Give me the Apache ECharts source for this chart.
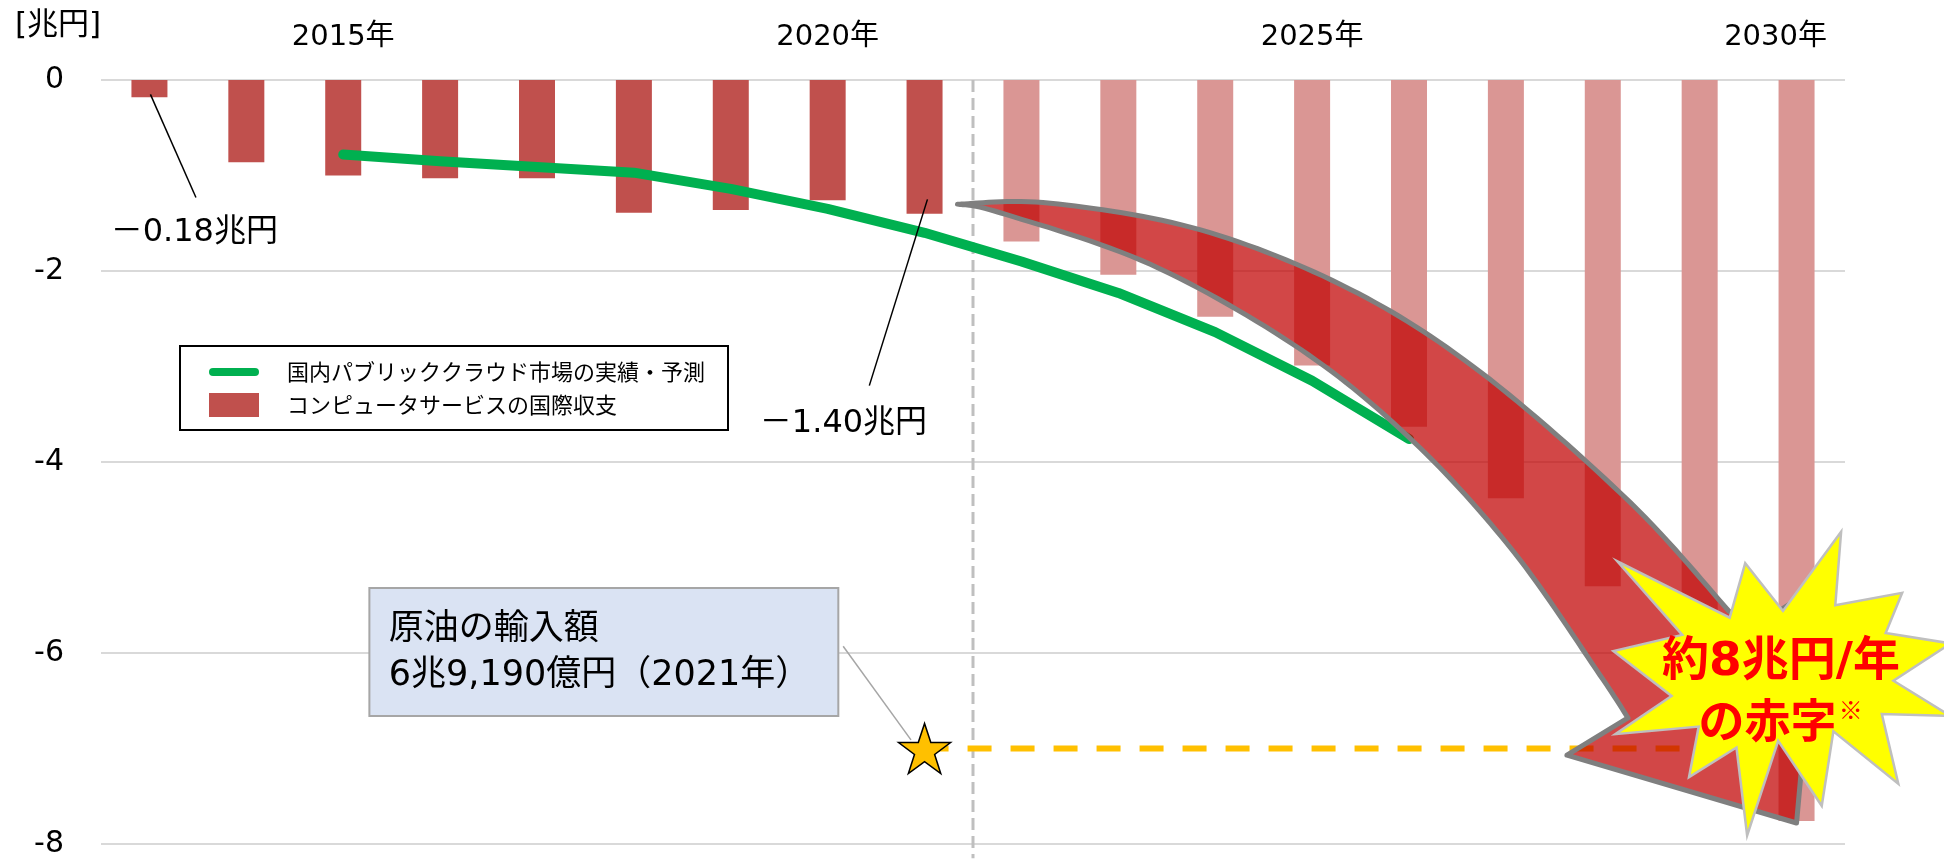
<!DOCTYPE html>
<html>
<head>
<meta charset="utf-8">
<script src="https://cdn.jsdelivr.net/npm/echarts@6/dist/echarts.min.js"></script>
<style>
  html, body { margin: 0; padding: 0; background: #fff; }
  #main { width: 1944px; height: 859px; }
</style>
</head>
<body>
<div id="main"></div>
<script>
// categories
const years = ['2013', '2014', '2015', '2016', '2017', '2018', '2019', '2020', '2021',
               '2022', '2023', '2024', '2025', '2026', '2027', '2028', '2029', '2030'];

// コンピュータサービスの国際収支 [兆円]
const actualBalance = [-0.18, -0.86, -1.00, -1.03, -1.03, -1.39, -1.36, -1.26, -1.40];   // 2013-2021
const forecastBalance = [-1.69, -2.04, -2.48, -2.99, -3.63, -4.38, -5.30, -6.50, -7.76]; // 2022-2030

// 国内パブリッククラウド市場の実績・予測 (2015-2026)
const cloudMarket = [null, null, -0.78, -0.85, -0.91, -0.97, -1.14, -1.35, -1.60,
                     -1.90, -2.23, -2.64, -3.15, -3.76, null, null, null, null];

// 原油の輸入額 (2021年)
const oilImport = -7.0;
const oilFrom = '2021';
const oilTo = '2030';

const yMin = -8, yMax = 0, yStep = 2;

const FONT = '"DejaVu Sans", "Noto Sans CJK JP", sans-serif';
const CJK = '"Noto Sans CJK JP", sans-serif';
const barColor = '#c0504d';
const barColorForecast = '#da9694';
const cloudName = '国内パブリッククラウド市場の実績・予測';
const balanceName = 'コンピュータサービスの国際収支';

// decorations, in [category index, value] units
const dividerX = 8.5;
const arrowUpper = [
  [8.34, -1.30], [9.30, -1.29], [10.85, -1.57], [12.39, -2.19], [13.74, -3.06],
  [15.28, -4.42], [16.30, -5.56], [16.57, -5.72]
];
const arrowHead = [[17.22, -5.30], [17.00, -7.78], [14.63, -7.07]];
const arrowLower = [
  [15.26, -6.68], [14.97, -6.23], [14.08, -4.94], [13.05, -3.79], [11.88, -2.82],
  [10.33, -1.93], [8.78, -1.39], [8.34, -1.30]
];
const burstOutline = [
  [17.46, -4.73], [16.86, -5.56], [16.47, -5.06], [16.31, -5.63], [15.15, -5.04], [15.82, -5.81],
  [15.11, -5.98], [15.71, -6.45], [15.13, -6.85], [15.99, -6.77], [15.89, -7.30], [16.38, -6.99],
  [16.49, -7.91], [16.81, -6.92], [17.26, -7.60], [17.38, -6.82], [18.05, -7.37], [17.88, -6.64],
  [18.59, -6.66], [18.00, -6.29], [18.59, -5.90], [17.92, -5.79], [18.09, -5.37], [17.40, -5.50]
];

var chartDom = document.getElementById('main');
var myChart = echarts.init(chartDom);

const barData = actualBalance.concat(forecastBalance).map(function (v, i) {
  return i < actualBalance.length ? v : { value: v, itemStyle: { color: barColorForecast } };
});

// catmull-rom through pixel points
function spline(pts, steps) {
  const out = [];
  for (let i = 0; i < pts.length - 1; i++) {
    const p0 = pts[Math.max(i - 1, 0)], p1 = pts[i], p2 = pts[i + 1], p3 = pts[Math.min(i + 2, pts.length - 1)];
    for (let s = 0; s < steps; s++) {
      const t = s / steps, t2 = t * t, t3 = t2 * t;
      out.push([0, 1].map(function (k) {
        return 0.5 * ((2 * p1[k]) + (-p0[k] + p2[k]) * t +
          (2 * p0[k] - 5 * p1[k] + 4 * p2[k] - p3[k]) * t2 +
          (-p0[k] + 3 * p1[k] - 3 * p2[k] + p3[k]) * t3);
      }));
    }
  }
  out.push(pts[pts.length - 1]);
  return out;
}

function single(z, build) {
  return {
    type: 'custom',
    xAxisIndex: 1,
    yAxisIndex: 0,
    z: z,
    silent: true,
    clip: false,
    data: [[0, 0]],
    renderItem: function (params, api) {
      return { type: 'group', children: build(api) };
    }
  };
}

function textEl(api, pos, text, size, opts) {
  const p = api.coord(pos);
  return {
    type: 'text',
    x: p[0], y: p[1],
    style: Object.assign({
      text: text, fill: '#000', fontSize: size, fontFamily: FONT,
      align: 'left', verticalAlign: 'middle'
    }, opts || {})
  };
}

function lineEl(api, a, b, style) {
  const p = api.coord(a), q = api.coord(b);
  return { type: 'line', shape: { x1: p[0], y1: p[1], x2: q[0], y2: q[1] }, style: style };
}

var option = {
  animation: false,
  title: {
    text: '[兆円]',
    left: 10,
    top: 5,
    textStyle: { fontSize: 31, fontWeight: 'normal', color: '#000', fontFamily: FONT }
  },
  grid: { left: 101, right: 99, top: 80, bottom: 12 },
  legend: {
    left: 180,
    top: 346,
    orient: 'vertical',
    padding: [14, 23, 13, 29],
    borderColor: '#000',
    borderWidth: 2,
    itemGap: 9,
    itemWidth: 50,
    itemHeight: 24,
    textStyle: { fontSize: 22, color: '#000', fontFamily: CJK, padding: [0, 0, 0, 23] },
    data: [
      { name: cloudName, icon: 'path://M0,0M0,24M4,8h42a4,4 0 0 1 0,8h-42a4,4 0 0 1 0,-8z', itemStyle: { color: '#00b050' } },
      { name: balanceName, icon: 'rect', itemStyle: { color: barColor } }
    ]
  },
  xAxis: [
    {
      type: 'category',
      data: years,
      position: 'top',
      axisLine: { show: false },
      axisTick: { show: false },
      axisLabel: {
        interval: 0,
        margin: 28,
        fontSize: 29,
        color: '#000',
        fontFamily: FONT,
        formatter: function (v) {
          if (v === years[years.length - 1]) return '{e|' + v + '年}';
          return Number(v) % 5 === 0 ? v + '年' : '';
        },
        rich: { e: { fontSize: 29, color: '#000', fontFamily: FONT, padding: [0, 42, 0, 0] } }
      }
    },
    { type: 'value', min: -0.5, max: years.length - 0.5, show: false }
  ],
  yAxis: {
    type: 'value',
    min: yMin,
    max: yMax,
    interval: yStep,
    axisLine: { show: false },
    axisTick: { show: false },
    axisLabel: { fontSize: 30, color: '#000', fontFamily: FONT, margin: 37, padding: [0, 0, 10, 0] },
    splitLine: { lineStyle: { color: '#d9d9d9', width: 2 } }
  },
  series: [
    {
      name: balanceName,
      type: 'bar',
      z: 2,
      barWidth: 36,
      itemStyle: { color: barColor },
      data: barData
    },
    single(3, function (api) {
      return [lineEl(api, [dividerX, 0], [dividerX, -8.15],
        { stroke: '#bfbfbf', lineWidth: 3, lineDash: [12, 6] })];
    }),
    {
      name: cloudName,
      type: 'line',
      z: 4,
      symbol: 'none',
      color: '#00b050',
      lineStyle: { width: 10, color: '#00b050', cap: 'round', join: 'round' },
      data: cloudMarket
    },
    {
      name: '原油の輸入額',
      type: 'line',
      xAxisIndex: 1,
      z: 5,
      symbol: 'none',
      lineStyle: { color: '#ffc000', width: 6, type: [24, 19] },
      data: [
        {
          value: [years.indexOf(oilFrom), oilImport],
          symbol: 'path://M50,0L61.8,35.5L99,35.5L69,57.5L80.5,93L50,71L19.5,93L31,57.5L1,35.5L38.2,35.5Z',
          symbolSize: [52, 50],
          itemStyle: { color: '#ffc000', borderColor: '#000', borderWidth: 1.5 }
        },
        [years.indexOf(oilTo), oilImport]
      ]
    },
    single(6, function (api) {
      const toPx = function (p) { return api.coord(p); };
      const pts = spline(arrowUpper.slice(0, -1).map(toPx), 16)
        .concat([toPx(arrowUpper[arrowUpper.length - 1])])
        .concat(arrowHead.map(toPx))
        .concat(spline(arrowLower.map(toPx), 16));
      return [{
        type: 'polygon',
        shape: { points: pts },
        style: { fill: 'rgba(192,0,0,0.72)', stroke: '#7f7f7f', lineWidth: 5, lineJoin: 'round' }
      }];
    }),
    single(7, function (api) {
      return [
        {
          type: 'polygon',
          shape: { points: burstOutline.map(function (p) { return api.coord(p); }) },
          style: { fill: '#ffff00', stroke: '#bfbfbf', lineWidth: 2.5 }
        },
        textEl(api, [16.84, -6.10], '約8兆円/年', 47, { fill: '#ff0000', fontWeight: 'bold', align: 'center' }),
        textEl(api, [16.70, -6.70], 'の赤字', 46, { fill: '#ff0000', fontWeight: 'bold', align: 'center', fontFamily: CJK }),
        textEl(api, [17.56, -6.60], '※', 24, { fill: '#ff0000', fontWeight: 'bold', align: 'center', fontFamily: CJK })
      ];
    }),
    single(8, function (api) {
      const box0 = api.coord([2.27, -5.32]);
      const box1 = api.coord([7.11, -6.66]);
      return [
        lineEl(api, [0.01, -0.15], [0.48, -1.23], { stroke: '#000', lineWidth: 1.5 }),
        textEl(api, [-0.40, -1.60], '－0.18兆円', 32),
        lineEl(api, [7.43, -3.20], [8.03, -1.25], { stroke: '#000', lineWidth: 1.5 }),
        textEl(api, [6.30, -3.60], '－1.40兆円', 32),
        lineEl(api, [7.16, -5.93], [7.86, -6.91], { stroke: '#a6a6a6', lineWidth: 1.5 }),
        {
          type: 'rect',
          shape: { x: box0[0], y: box0[1], width: box1[0] - box0[0], height: box1[1] - box0[1] },
          style: { fill: '#dae3f3', stroke: '#a6a6a6', lineWidth: 2 }
        },
        textEl(api, [2.47, -5.76], '原油の輸入額', 35),
        textEl(api, [2.47, -6.24], '6兆9,190億円（2021年）', 35)
      ];
    })
  ]
};

option && myChart.setOption(option);
</script>
</body>
</html>
